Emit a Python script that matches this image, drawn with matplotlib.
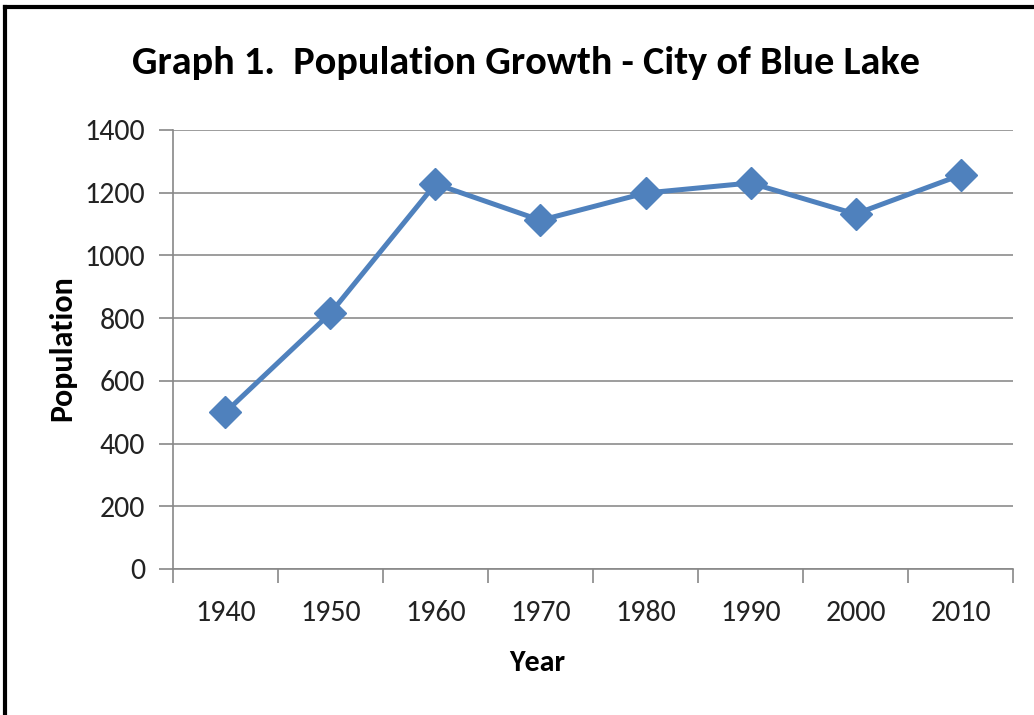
import matplotlib
matplotlib.use('Agg')
import matplotlib.pyplot as plt
from matplotlib.lines import Line2D

years = ['1940', '1950', '1960', '1970', '1980', '1990', '2000', '2010']
population = [500, 816, 1228, 1112, 1199, 1231, 1132, 1256]
yticks = [0, 200, 400, 600, 800, 1000, 1200, 1400]

plt.rcParams['font.family'] = ['Carlito', 'DejaVu Sans']

fig = plt.figure(figsize=(10.34, 7.15), dpi=100)
ax = fig.add_axes([0.1673, 0.2042, 0.8124, 0.614])

x = list(range(len(years)))
ax.plot(x, population, color='#4F81BD', lw=3.6, marker='D', ms=16,
        markeredgecolor='#4F81BD', zorder=3)

ax.set_xlim(-0.5, len(years) - 0.5)
ax.set_ylim(0, 1400)
ax.set_yticks(yticks)
ax.set_yticklabels([str(v) for v in yticks])
ax.set_xticks(x)
ax.set_xticklabels(years)
ax.set_xticks([i - 0.5 for i in range(len(years) + 1)], minor=True)
ax.tick_params(axis='x', which='major', length=0, pad=22, labelsize=21.5, colors='#222222')
ax.tick_params(axis='x', which='minor', length=10, width=1.2, color='#888888')
ax.tick_params(axis='y', length=10, width=1.2, color='#888888', pad=10,
               labelsize=21.5, labelcolor='#222222')

ax.grid(axis='y', color='#8c8c8c', lw=1.2)
ax.set_axisbelow(True)
for s in ['top', 'right']:
    ax.spines[s].set_visible(False)
for s in ['left', 'bottom']:
    ax.spines[s].set_color('#888888')
    ax.spines[s].set_linewidth(1.2)

ax.set_xlabel('Year', fontsize=21.5, fontweight='bold', va='center')
ax.xaxis.set_label_coords(0.433, -0.214)
ax.set_ylabel('Population', fontsize=23, fontweight='bold', va='center')
ax.yaxis.set_label_coords(-0.132, 0.503)

fig.text(0.509, 0.912, 'Graph 1.  Population Growth - City of Blue Lake',
         ha='center', va='center', fontsize=29, fontweight='bold')

# frame, cut off at the right and bottom in the reference
fig.add_artist(Line2D([0.005, 1.0], [0.990, 0.990], color='black', lw=3,
                      transform=fig.transFigure))
fig.add_artist(Line2D([0.005, 0.005], [0.0, 0.990], color='black', lw=3,
                      transform=fig.transFigure))

fig.savefig('out.png')
